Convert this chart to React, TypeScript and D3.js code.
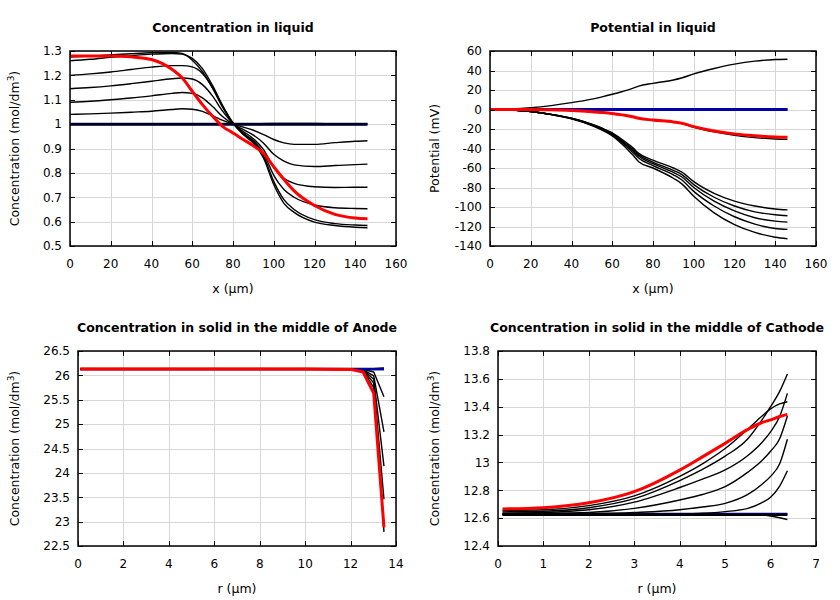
import React from 'react';
import * as d3 from 'd3';

// ---------- Panel 1: Concentration in liquid ----------
const xLiquid = [0, 10, 20, 30, 40, 50, 55, 60, 65, 70, 75, 80, 85, 90, 95, 100, 105, 110, 120, 130, 140, 146];
const liqC1 = [1.040, 1.042, 1.045, 1.049, 1.053, 1.060, 1.063, 1.061, 1.052, 1.034, 1.015, 1.000, 0.988, 0.975, 0.957, 0.937, 0.923, 0.917, 0.917, 0.924, 0.930, 0.932];
const liqC2 = [1.090, 1.094, 1.100, 1.107, 1.116, 1.126, 1.130, 1.126, 1.108, 1.072, 1.030, 1.000, 0.978, 0.955, 0.922, 0.876, 0.848, 0.833, 0.826, 0.830, 0.834, 0.836];
const liqC3 = [1.145, 1.150, 1.157, 1.166, 1.176, 1.186, 1.189, 1.185, 1.162, 1.115, 1.052, 1.002, 0.970, 0.940, 0.895, 0.822, 0.778, 0.757, 0.743, 0.740, 0.741, 0.741];
const liqC4 = [1.200, 1.206, 1.214, 1.224, 1.234, 1.240, 1.240, 1.235, 1.208, 1.150, 1.072, 1.005, 0.963, 0.932, 0.880, 0.790, 0.732, 0.700, 0.668, 0.657, 0.654, 0.653];
const liqC5 = [1.260, 1.266, 1.274, 1.281, 1.287, 1.290, 1.287, 1.270, 1.228, 1.158, 1.075, 1.005, 0.960, 0.927, 0.870, 0.765, 0.690, 0.650, 0.608, 0.592, 0.586, 0.584];
const liqC6 = [1.275, 1.279, 1.284, 1.289, 1.293, 1.294, 1.290, 1.262, 1.215, 1.147, 1.068, 1.003, 0.957, 0.922, 0.860, 0.752, 0.675, 0.638, 0.598, 0.584, 0.577, 0.575];
const liqFlat = [1, 1, 1, 1, 1, 1, 1, 1, 1, 1, 1, 1, 1, 1, 1, 1, 1, 1, 1, 1, 1, 1];
const xLiqBump = [0, 60, 80, 90, 100, 110, 120, 128];
const liqBump = [1.0, 1.0, 1.0, 1.002, 1.003, 1.003, 1.003, 1.002];
const liqRed = [1.279, 1.280, 1.280, 1.276, 1.265, 1.225, 1.190, 1.135, 1.080, 1.032, 0.990, 0.964, 0.937, 0.911, 0.880, 0.825, 0.773, 0.726, 0.666, 0.630, 0.615, 0.612];

// ---------- Panel 2: Potential in liquid ----------
const xPot = [0, 10, 20, 30, 40, 50, 55, 60, 65, 70, 73, 80, 90, 94, 100, 110, 120, 130, 140, 146];
const potUp = [0, 0.5, 1.8, 4, 7, 10.7, 13, 15.6, 18.5, 21.7, 24, 26.8, 30.3, 32.3, 36.5, 42, 46.5, 49.6, 51.3, 51.6];
const potMid = [0, 0, 0, -0.3, -1, -2.2, -3, -4, -5.5, -7.4, -9, -11, -13, -14.3, -18.2, -23, -26.5, -28.8, -30.2, -30.6];
const potL1 = [0, -0.5, -2, -5, -9, -15, -19, -24, -31, -39, -45, -52, -60, -64, -74, -86, -94, -99, -102, -103];
const potL2 = [0, -0.5, -2, -5, -9, -15.3, -19.5, -24.6, -32, -40.5, -46.5, -54, -62.5, -66.5, -77, -90, -99, -105, -108, -109];
const potL3 = [0, -0.5, -2, -5, -9.2, -15.6, -20, -25.2, -33, -42, -48, -55.5, -64.5, -69, -80, -94, -104, -111, -114.5, -115.5];
const potL4 = [0, -0.5, -2, -5.1, -9.4, -16, -20.5, -26, -34.2, -43.8, -50, -57.5, -67, -72, -84, -99, -110, -117.5, -122, -123];
const potL5 = [0, -0.5, -2.1, -5.2, -9.6, -16.5, -21.2, -27, -35.8, -46.5, -53.5, -60, -70.5, -76, -89, -106, -118, -126, -131, -132.5];
const potFlat = [0, 0, 0, 0, 0, 0, 0, 0, 0, 0, 0, 0, 0, 0, 0, 0, 0, 0, 0, 0];
const potRed = [0, 0.1, 0.1, -0.3, -1, -2.2, -3, -4, -5.5, -7.4, -9, -10.8, -12.8, -14, -17.6, -22, -25, -27, -28.2, -28.5];

// ---------- Panel 3: Solid, anode ----------
const rAnode = [0.1, 2, 4, 6, 8, 10, 12.05, 12.55, 13.02, 13.47];
const anB1 = [26.13, 26.13, 26.13, 26.13, 26.13, 26.13, 26.13, 26.125, 26.07, 25.56];
const anB2 = [26.13, 26.13, 26.13, 26.13, 26.13, 26.13, 26.13, 26.12, 25.99, 24.84];
const anB3 = [26.13, 26.13, 26.13, 26.13, 26.13, 26.13, 26.13, 26.115, 25.92, 24.14];
const anB4 = [26.13, 26.13, 26.13, 26.13, 26.13, 26.13, 26.13, 26.11, 25.84, 23.46];
const anB5 = [26.13, 26.13, 26.13, 26.13, 26.13, 26.13, 26.13, 26.10, 25.75, 22.79];
const anUp = [26.13, 26.13, 26.13, 26.13, 26.13, 26.13, 26.13, 26.13, 26.135, 26.15];
const anFlat = [26.13, 26.13, 26.13, 26.13, 26.13, 26.13, 26.13, 26.13, 26.13, 26.13];
const anRed = [26.13, 26.13, 26.13, 26.13, 26.13, 26.13, 26.12, 26.07, 25.63, 22.88];

// ---------- Panel 4: Solid, cathode ----------
const rCath = [0.1, 1, 2, 3, 4, 4.5, 5, 5.5, 5.8, 6, 6.2, 6.37];
const caA = [12.655, 12.66, 12.69, 12.76, 12.90, 12.99, 13.10, 13.24, 13.33, 13.385, 13.42, 13.436];
const caB = [12.645, 12.65, 12.675, 12.74, 12.87, 12.95, 13.045, 13.17, 13.30, 13.40, 13.51, 13.635];
const caC = [12.635, 12.64, 12.66, 12.715, 12.82, 12.88, 12.946, 13.05, 13.14, 13.22, 13.33, 13.496];
const caD = [12.63, 12.632, 12.64, 12.67, 12.73, 12.77, 12.826, 12.93, 13.01, 13.08, 13.17, 13.333];
const caE = [12.625, 12.626, 12.63, 12.64, 12.66, 12.68, 12.706, 12.77, 12.84, 12.90, 12.99, 13.166];
const caF = [12.625, 12.625, 12.625, 12.627, 12.63, 12.635, 12.647, 12.67, 12.71, 12.75, 12.83, 12.94];
const caG = [12.625, 12.625, 12.625, 12.625, 12.625, 12.625, 12.625, 12.625, 12.622, 12.615, 12.603, 12.59];
const caFlat = [12.625, 12.625, 12.625, 12.625, 12.625, 12.625, 12.625, 12.625, 12.625, 12.625, 12.625, 12.625];
const caBlue = [12.63, 12.63, 12.63, 12.63, 12.63, 12.63, 12.63, 12.63, 12.63, 12.63, 12.63, 12.63];
const caRed = [12.666, 12.675, 12.71, 12.79, 12.945, 13.04, 13.137, 13.237, 13.285, 13.305, 13.33, 13.345];

// ---------- ticks ----------
const xTicksLiquid = [0, 20, 40, 60, 80, 100, 120, 140, 160];
const yTicksConc = [0.5, 0.6, 0.7, 0.8, 0.9, 1, 1.1, 1.2, 1.3];
const yTicksPot = [-140, -120, -100, -80, -60, -40, -20, 0, 20, 40, 60];
const xTicksAnode = [0, 2, 4, 6, 8, 10, 12, 14];
const yTicksAnode = [22.5, 23, 23.5, 24, 24.5, 25, 25.5, 26, 26.5];
const xTicksCath = [0, 1, 2, 3, 4, 5, 6, 7];
const yTicksCath = [12.4, 12.6, 12.8, 13, 13.2, 13.4, 13.6, 13.8];

const BLACK = '#000000';
const RED = '#ff0000';
const BLUE = '#0000a8';
const FONT = 'DejaVu Sans, sans-serif';

type Series = { x: number[]; y: number[]; color: string; width: number };
type Box = { l: number; r: number; t: number; b: number };

function fmt(v: number) {
  return String(+v.toFixed(3));
}

function Panel(props: {
  box: Box;
  xDomain: [number, number];
  yDomain: [number, number];
  xTicks: number[];
  yTicks: number[];
  title: string;
  xLabel: string;
  yLabel: string;
  ySup?: string;
  yLabelX: number;
  series: Series[];
  curve: d3.CurveFactory;
}) {
  const { box, xDomain, yDomain, xTicks, yTicks, title, xLabel, yLabel, ySup, yLabelX, series, curve } = props;
  const x = d3.scaleLinear().domain(xDomain).range([box.l, box.r]);
  const y = d3.scaleLinear().domain(yDomain).range([box.b, box.t]);
  const line = d3
    .line<[number, number]>()
    .x((d) => x(d[0]))
    .y((d) => y(d[1]))
    .curve(curve);
  const px = (v: number) => Math.round(x(v)) + 0.5;
  const py = (v: number) => Math.round(y(v)) + 0.5;
  const cx = (box.l + box.r) / 2;
  const cy = (box.t + box.b) / 2;
  const T = 5;
  const clipId = `clip-${Math.round(box.l)}-${Math.round(box.t)}`;
  return (
    <g>
      <defs>
        <clipPath id={clipId}>
          <rect x={box.l} y={box.t} width={box.r - box.l} height={box.b - box.t} />
        </clipPath>
      </defs>
      {xTicks.map((t) => (
        <line key={'gx' + t} x1={px(t)} x2={px(t)} y1={box.t} y2={box.b} stroke="#d6d6d6" strokeWidth={1} />
      ))}
      {yTicks.map((t) => (
        <line key={'gy' + t} x1={box.l} x2={box.r} y1={py(t)} y2={py(t)} stroke="#d6d6d6" strokeWidth={1} />
      ))}
      <g clipPath={`url(#${clipId})`}>
        {series.map((s, i) => (
          <path
            key={i}
            d={line(s.x.map((xv, j) => [xv, s.y[j]] as [number, number])) || ''}
            fill="none"
            stroke={s.color}
            strokeWidth={s.width}
            strokeLinejoin="round"
            strokeLinecap="butt"
          />
        ))}
      </g>
      {xTicks.map((t) => (
        <g key={'tx' + t}>
          <line x1={px(t)} x2={px(t)} y1={box.b} y2={box.b - T} stroke={BLACK} strokeWidth={1} />
          <line x1={px(t)} x2={px(t)} y1={box.t} y2={box.t + T} stroke={BLACK} strokeWidth={1} />
          <text x={x(t)} y={box.b + 22} textAnchor="middle" fontSize={12} fontFamily={FONT} fill="#000">
            {fmt(t)}
          </text>
        </g>
      ))}
      {yTicks.map((t) => (
        <g key={'ty' + t}>
          <line x1={box.l} x2={box.l + T} y1={py(t)} y2={py(t)} stroke={BLACK} strokeWidth={1} />
          <line x1={box.r} x2={box.r - T} y1={py(t)} y2={py(t)} stroke={BLACK} strokeWidth={1} />
          <text x={box.l - 8} y={y(t)} dy="0.36em" textAnchor="end" fontSize={12} fontFamily={FONT} fill="#000">
            {fmt(t)}
          </text>
        </g>
      ))}
      <rect x={box.l} y={box.t} width={box.r - box.l} height={box.b - box.t} fill="none" stroke={BLACK} strokeWidth={1.5} />
      <text x={cx} y={box.t - 19.5} textAnchor="middle" fontSize={12.5} fontWeight="bold" fontFamily={FONT} fill="#000">
        {title}
      </text>
      <text x={cx} y={box.b + 47} textAnchor="middle" fontSize={12.5} fontFamily={FONT} fill="#000">
        {xLabel}
      </text>
      <text
        x={0}
        y={0}
        transform={`translate(${yLabelX}, ${cy}) rotate(-90)`}
        textAnchor="middle"
        dy="0.36em"
        fontSize={12.5}
        fontFamily={FONT}
        fill="#000"
      >
        {yLabel}
        {ySup ? (
          <>
            <tspan dy={-5} fontSize={9}>
              {ySup}
            </tspan>
            <tspan dy={5}>)</tspan>
          </>
        ) : null}
      </text>
    </g>
  );
}

export default function App() {
  const blk = (xs: number[], ys: number[], w = 1.4): Series => ({ x: xs, y: ys, color: BLACK, width: w });

  const s1: Series[] = [
    { x: xLiquid, y: liqFlat, color: BLUE, width: 3 },
    blk(xLiquid, liqFlat, 2.2),
    blk(xLiqBump, liqBump, 1.4),
    blk(xLiquid, liqC1),
    blk(xLiquid, liqC2),
    blk(xLiquid, liqC3),
    blk(xLiquid, liqC4),
    blk(xLiquid, liqC5),
    blk(xLiquid, liqC6),
    { x: xLiquid, y: liqRed, color: RED, width: 3 },
  ];
  const s2: Series[] = [
    blk(xPot, potFlat, 2),
    blk(xPot, potUp),
    blk(xPot, potMid),
    blk(xPot, potL1),
    blk(xPot, potL2),
    blk(xPot, potL3),
    blk(xPot, potL4),
    blk(xPot, potL5),
    { x: xPot, y: potFlat, color: BLUE, width: 2.8 },
    { x: xPot, y: potRed, color: RED, width: 3 },
  ];
  const s3: Series[] = [
    blk(rAnode, anFlat, 2.5),
    blk(rAnode, anUp),
    blk(rAnode, anB1),
    blk(rAnode, anB2),
    blk(rAnode, anB3),
    blk(rAnode, anB4),
    blk(rAnode, anB5),
    { x: rAnode, y: anFlat, color: BLUE, width: 2.2 },
    { x: rAnode, y: anRed, color: RED, width: 3 },
  ];
  const s4: Series[] = [
    { x: rCath, y: caBlue, color: BLUE, width: 2.2 },
    blk(rCath, caFlat, 2.5),
    blk(rCath, caG),
    blk(rCath, caF),
    blk(rCath, caE),
    blk(rCath, caD),
    blk(rCath, caC),
    blk(rCath, caB),
    blk(rCath, caA),
    { x: rCath, y: caRed, color: RED, width: 3 },
  ];

  return (
    <svg
      width={840}
      height={600}
      viewBox="0 0 840 600"
      style={{ position: 'absolute', left: 0, top: 0, background: '#fff' }}
    >
      <rect x={0} y={0} width={840} height={600} fill="#fff" />
      <Panel
        box={{ l: 70, r: 396, t: 51, b: 246 }}
        xDomain={[0, 160]}
        yDomain={[0.5, 1.3]}
        xTicks={xTicksLiquid}
        yTicks={yTicksConc}
        title="Concentration in liquid"
        xLabel="x (µm)"
        yLabel="Concentration (mol/dm"
        ySup="3"
        yLabelX={14}
        series={s1}
        curve={d3.curveMonotoneX}
      />
      <Panel
        box={{ l: 490, r: 816, t: 51, b: 246 }}
        xDomain={[0, 160]}
        yDomain={[-140, 60]}
        xTicks={xTicksLiquid}
        yTicks={yTicksPot}
        title="Potential in liquid"
        xLabel="x (µm)"
        yLabel="Potential (mV)"
        yLabelX={434}
        series={s2}
        curve={d3.curveMonotoneX}
      />
      <Panel
        box={{ l: 78, r: 396, t: 351, b: 546 }}
        xDomain={[0, 14]}
        yDomain={[22.5, 26.5]}
        xTicks={xTicksAnode}
        yTicks={yTicksAnode}
        title="Concentration in solid in the middle of Anode"
        xLabel="r (µm)"
        yLabel="Concentration (mol/dm"
        ySup="3"
        yLabelX={14}
        series={s3}
        curve={d3.curveLinear}
      />
      <Panel
        box={{ l: 498, r: 816, t: 351, b: 546 }}
        xDomain={[0, 7]}
        yDomain={[12.4, 13.8]}
        xTicks={xTicksCath}
        yTicks={yTicksCath}
        title="Concentration in solid in the middle of Cathode"
        xLabel="r (µm)"
        yLabel="Concentration (mol/dm"
        ySup="3"
        yLabelX={434}
        series={s4}
        curve={d3.curveMonotoneX}
      />
    </svg>
  );
}
